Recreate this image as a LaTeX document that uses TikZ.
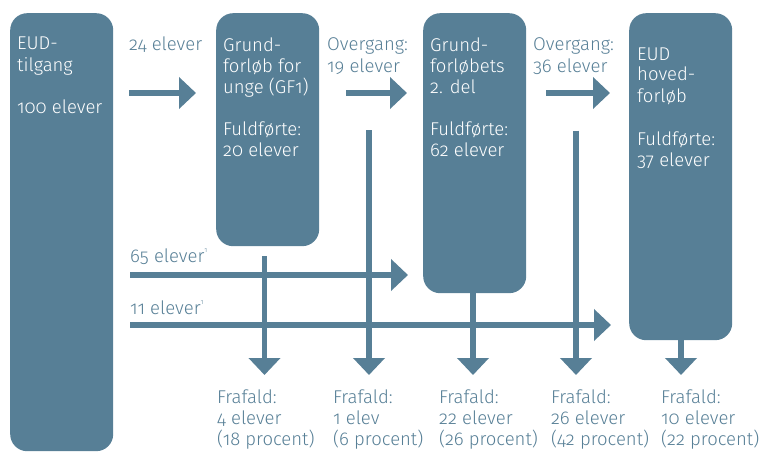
\documentclass[tikz,border=0pt]{standalone}
\usepackage{fontspec}
\setmainfont{Fira Sans}[UprightFont={* Light}, Numbers=OldStyle]
\usetikzlibrary{arrows.meta}
\definecolor{steel}{RGB}{87,127,150}
\newcommand\fnmark{\raisebox{0.5em}{\fontsize{7}{7}\selectfont 1}}
\begin{document}
\begin{tikzpicture}[x=1pt,y=-1pt,
  box/.style={fill=steel, rounded corners=17pt, inner sep=0pt, anchor=north west},
  boxtxt/.style={anchor=base west, align=left, text=white, inner sep=0pt, font=\fontsize{18.5}{21}\selectfont},
  lbl/.style={anchor=base west, align=left, text=steel, inner sep=0pt, font=\fontsize{18.5}{21}\selectfont},
  arr/.style={draw=steel, line width=5.5pt, -{Triangle[length=17pt,width=31pt]}}]
\useasboundingbox (0,0) rectangle (760,452);
% boxes
\node[box, minimum width=103pt, minimum height=438pt] (b1) at (10,13) {};
\node[box, minimum width=103pt, minimum height=233pt] (b2) at (216,13) {};
\node[box, minimum width=103pt, minimum height=280pt] (b3) at (423,13) {};
\node[box, minimum width=103pt, minimum height=327pt] (b4) at (629,13) {};
% box texts (y = baseline of the last line)
\node[boxtxt] (t1a) at (17,71) {EUD-\\tilgang};
\node[boxtxt] (t1b) at (17,113) {100 elever};
\node[boxtxt] (t2a) at (223,93) {Grund-\\forløb for\\unge (GF1)};
\node[boxtxt] (t2b) at (223,156) {Fuldførte:\\20 elever};
\node[boxtxt] (t3a) at (430,93) {Grund-\\forløbets\\2. del};
\node[boxtxt] (t3b) at (430,156) {Fuldførte:\\62 elever};
\node[boxtxt] (t4a) at (637,102) {EUD\\hoved-\\forløb};
\node[boxtxt] (t4b) at (637,166) {Fuldførte:\\37 elever};
% labels
\node[lbl] (l1) at (129,51) {24 elever};
\node[lbl] (l2) at (327,72) {Overgang:\\19 elever};
\node[lbl] (l3) at (533,72) {Overgang:\\36 elever};
\node[lbl] (l4) at (130,262) {65 elever\fnmark};
\node[lbl] (l5) at (130,314) {11 elever\fnmark};
\node[lbl] (f1) at (217,445) {Frafald:\\4 elever\\(18 procent)};
\node[lbl] (f2) at (333,445) {Frafald:\\1 elev\\(6 procent)};
\node[lbl] (f3) at (439,445) {Frafald:\\22 elever\\(26 procent)};
\node[lbl] (f4) at (551,445) {Frafald:\\26 elever\\(42 procent)};
\node[lbl] (f5) at (661,445) {Frafald:\\10 elever\\(22 procent)};
% arrow end points
\coordinate (h1s) at (129,93);  \coordinate (h1e) at (196,93);
\coordinate (h2s) at (346,93);  \coordinate (h2e) at (407,93);
\coordinate (h3s) at (546,93);  \coordinate (h3e) at (610,93);
\coordinate (g1s) at (130,275); \coordinate (g1e) at (408,275);
\coordinate (g2s) at (130,325); \coordinate (g2e) at (611,325);
\coordinate (v1s) at (264.5,256); \coordinate (v1e) at (264.5,375);
\coordinate (v2s) at (369,130);   \coordinate (v2e) at (369,375);
\coordinate (v3s) at (473,293);   \coordinate (v3e) at (473,375);
\coordinate (v4s) at (576,130.5); \coordinate (v4e) at (576,375);
\coordinate (v5s) at (681,340);   \coordinate (v5e) at (681,375);
% arrows
\draw[arr] (h1s) -- (h1e);
\draw[arr] (h2s) -- (h2e);
\draw[arr] (h3s) -- (h3e);
\draw[arr] (g1s) -- (g1e);
\draw[arr] (g2s) -- (g2e);
\draw[arr] (v1s) -- (v1e);
\draw[arr] (v2s) -- (v2e);
\draw[arr] (v3s) -- (v3e);
\draw[arr] (v4s) -- (v4e);
\draw[arr] (v5s) -- (v5e);
\end{tikzpicture}
\end{document}
